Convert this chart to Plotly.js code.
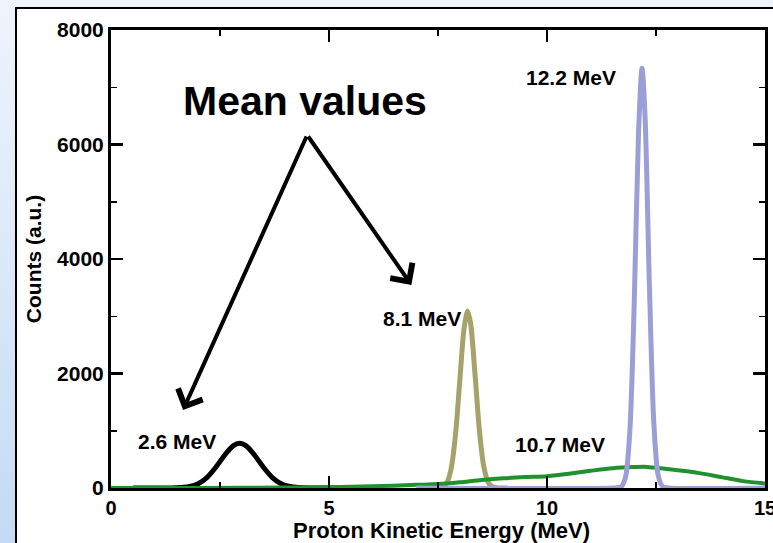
<!DOCTYPE html>
<html>
<head>
<meta charset="utf-8">
<script src="https://cdn.plot.ly/plotly-3.0.1.min.js"></script>
<style>
  html, body { margin: 0; padding: 0; width: 773px; height: 543px; overflow: hidden; }
  body { background: linear-gradient(to bottom, #eef4fc 0%, #dbe8f8 50%, #c4daf4 100%); position: relative; }
  #frame { position: absolute; left: 15px; top: 7px; width: 780px; height: 560px; background: #ffffff; border-left: 2px solid #000; border-top: 2px solid #000; }
  #chart { position: absolute; left: 0; top: 0; width: 773px; height: 543px; }
</style>
</head>
<body>
<div id="frame"></div>
<div id="chart"></div>
<script>
// Spectra (x: proton kinetic energy in MeV, y: counts a.u.)
const blackX = [0.5, 1.0, 1.5, 1.8, 2.0, 2.2, 2.4, 2.6, 2.8, 2.95, 3.1, 3.3, 3.5, 3.7, 3.9, 4.1, 4.3, 4.6, 5.0, 5.5];
const blackY = [0, 0, 3, 26, 76, 183, 357, 568, 736, 780, 736, 568, 357, 183, 76, 26, 7, 1, 0, 0];

const oliveX = [7.3, 7.4, 7.6, 7.7, 7.8, 7.9, 8.0, 8.1, 8.18, 8.25, 8.35, 8.45, 8.55, 8.65, 8.75, 8.9, 9.1];
const oliveY = [0, 0, 17, 88, 333, 921, 1874, 2799, 3090, 2865, 1978, 1003, 374, 102, 21, 1, 0];

const greenX = [0, 2, 4, 5, 6, 7, 7.5, 8, 8.5, 9, 9.5, 10, 10.5, 11, 11.5, 12, 12.3, 12.7, 13, 13.5, 14, 14.5, 15];
const greenY = [0, 2, 8, 15, 30, 55, 68, 100, 140, 170, 190, 205, 250, 300, 345, 365, 368, 335, 310, 260, 190, 120, 80];

const blueX = [7, 11.5, 11.7, 11.8, 11.9, 12.0, 12.1, 12.18, 12.25, 12.35, 12.45, 12.55, 12.65, 12.8, 15];
const blueY = [0, 0, 20, 185, 992, 3207, 6226, 7330, 6469, 3507, 1141, 223, 26, 0, 0];

// Peak labels
const labelText = ["12.2 MeV", "8.1 MeV", "2.6 MeV", "10.7 MeV"];
const labelX = [10.54, 7.14, 1.505, 10.30];
const labelY = [7179, 2969, 821, 760];

// "Mean values" callout: apex and arrow tips
const calloutText = "Mean values";
const calloutX = 4.457, calloutY = 6760;
const apexX = 4.50, apexY = 6166;
const tipX = [1.654, 6.89];
const tipY = [1362, 3546];

const xTicks = [0, 5, 10, 15];
const yTicks = [0, 2000, 4000, 6000, 8000];
const xTitle = "Proton Kinetic Energy (MeV)";
const yTitle = "Counts (a.u.)";

const FONT = "Liberation Sans, Arial, Helvetica, sans-serif";

const traces = [
  {x: blackX, y: blackY, mode: "lines", line: {color: "#000000", width: 5, shape: "spline", smoothing: 0.8}, hoverinfo: "skip"},
  {x: oliveX, y: oliveY, mode: "lines", line: {color: "#a6a26a", width: 5, shape: "spline", smoothing: 0.8}, hoverinfo: "skip"},
  {x: greenX, y: greenY, mode: "lines", line: {color: "#20912f", width: 4, shape: "spline", smoothing: 0.8}, hoverinfo: "skip"},
  {x: blueX, y: blueY, mode: "lines", line: {color: "#9c9ed8", width: 5, shape: "spline", smoothing: 0.8}, hoverinfo: "skip"}
];

const annotations = [];
labelText.forEach((t, i) => annotations.push({
  x: labelX[i], y: labelY[i], xref: "x", yref: "y", text: t, showarrow: false,
  font: {family: FONT, size: 21, color: "#000", weight: "bold"}
}));
annotations.push({
  x: calloutX, y: calloutY, xref: "x", yref: "y", text: calloutText, showarrow: false,
  font: {family: FONT, size: 41, color: "#000", weight: "bold"}
});
tipX.forEach((tx, i) => annotations.push({
  x: tx, y: tipY[i], xref: "x", yref: "y", ax: apexX, ay: apexY, axref: "x", ayref: "y",
  text: "", showarrow: true, arrowhead: 4, arrowsize: 1.3, arrowwidth: 4, arrowcolor: "#000"
}));
// x-axis title (placed as a paper annotation to match its tight spacing under the tick labels)
annotations.push({
  x: 0.5046, y: -0.093, xref: "paper", yref: "paper", xanchor: "center", yanchor: "middle",
  text: xTitle, showarrow: false,
  font: {family: FONT, size: 22, color: "#000", weight: "bold"}
});

const layout = {
  width: 773, height: 543,
  margin: {l: 111, r: 8, t: 30, b: 55, pad: 0},
  paper_bgcolor: "rgba(0,0,0,0)",
  plot_bgcolor: "#ffffff",
  showlegend: false,
  font: {family: FONT, color: "#000"},
  xaxis: {
    range: [0, 15], tickvals: xTicks, ticktext: xTicks.map(String),
    ticks: "inside", ticklen: 12, tickwidth: 2.5, tickcolor: "#000",
    minor: {dtick: 2.5, ticks: "inside", ticklen: 6, tickwidth: 1.5, tickcolor: "#000"},
    showline: true, linewidth: 3, linecolor: "#000", mirror: "ticks",
    showgrid: false, zeroline: false, ticklabeloverflow: "allow",
    tickfont: {family: FONT, size: 20, color: "#000", weight: "bold"}
  },
  yaxis: {
    range: [0, 8000], tickvals: yTicks, ticktext: yTicks.map(String),
    ticks: "inside", ticklen: 12, tickwidth: 2.5, tickcolor: "#000",
    minor: {dtick: 1000, ticks: "inside", ticklen: 6, tickwidth: 1.5, tickcolor: "#000"},
    showline: true, linewidth: 3, linecolor: "#000", mirror: "ticks",
    showgrid: false, zeroline: false, ticklabeloverflow: "allow",
    tickfont: {family: FONT, size: 21, color: "#000", weight: "bold"},
    title: {text: yTitle, font: {family: FONT, size: 21, color: "#000", weight: "bold"}, standoff: 10}
  },
  annotations: annotations
};

Plotly.newPlot("chart", traces, layout, {displayModeBar: false, staticPlot: true});
</script>
</body>
</html>
